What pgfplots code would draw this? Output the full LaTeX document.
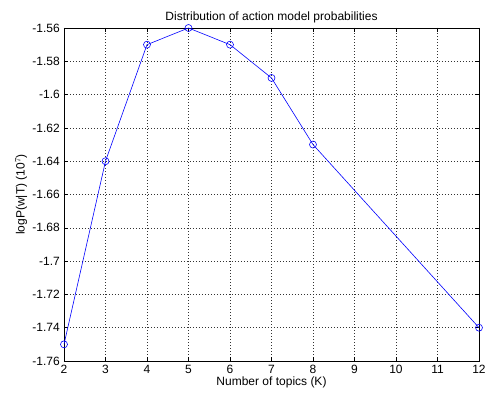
\documentclass[border=0pt]{standalone}
\usepackage{pgfplots}
\pgfplotsset{compat=1.18}
\usepackage{fontspec}
\setmainfont{Liberation Sans}
\begin{document}
\fontsize{12}{14}\selectfont
\begin{tikzpicture}
\begin{axis}[
  name=ax,
  scale only axis,
  width=415pt, height=333pt,
  xmin=2, xmax=12, ymin=-1.76, ymax=-1.56,
  xtick={2,3,4,5,6,7,8,9,10,11,12},
  ytick={-1.76,-1.74,-1.72,-1.70,-1.68,-1.66,-1.64,-1.62,-1.60,-1.58,-1.56},
  yticklabels={-1.76,-1.74,-1.72,-1.7,-1.68,-1.66,-1.64,-1.62,-1.6,-1.58,-1.56},
  xticklabels={2,3,4,5,6,7,8,9,10,11,12},
  tick align=inside,
  major tick length=4pt,
  tick style={black, line width=0.5pt},
  grid=major,
  major grid style={black!80, dash pattern=on 0.8pt off 2.2pt, line width=0.5pt},
  axis line style={black, line width=0.6pt},
  title={Distribution of action model probabilities},
  title style={yshift=-5pt},
  xlabel={Number of topics (K)},
  ylabel={logP(w|T) (10$^7$)},
  xlabel style={yshift=5pt},
  ylabel style={yshift=-3pt},
  tick label style={font=\fontsize{12}{14}\selectfont},
  label style={font=\fontsize{12}{14}\selectfont},
]
\addplot[blue, line width=0.6pt, mark=o, mark size=3.5pt, mark options={solid}] coordinates {
  (2,-1.75) (3,-1.64) (4,-1.57) (5,-1.56) (6,-1.57) (7,-1.59) (8,-1.63) (12,-1.74)
};
\end{axis}
\pgfresetboundingbox
\path ([xshift=-64pt,yshift=-37pt]ax.south west) rectangle ([xshift=9pt,yshift=28pt]ax.north east);
\end{tikzpicture}
\end{document}
